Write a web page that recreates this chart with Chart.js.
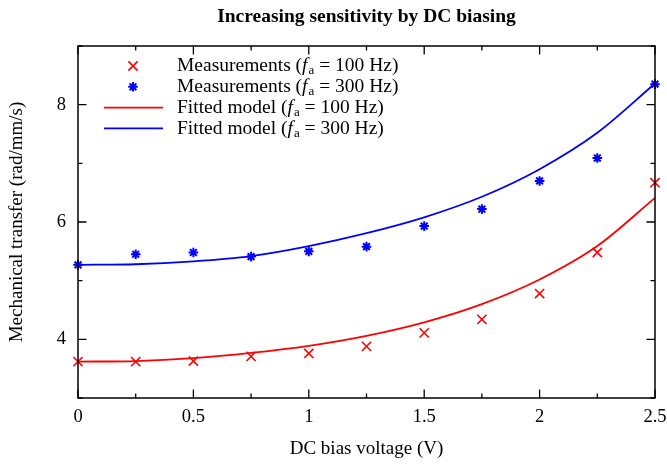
<!DOCTYPE html>
<html><head><meta charset="utf-8">
<script src="https://cdn.jsdelivr.net/npm/chart.js@4.4.0/dist/chart.umd.min.js"></script>
<style>html,body{margin:0;padding:0;background:#fff}</style>
</head><body>
<canvas id="c" width="667" height="466"></canvas>
<script>
const chartTitle = 'Increasing sensitivity by DC biasing';
const xTitle = 'DC bias voltage (V)';
const yTitle = 'Mechanical transfer (rad/mm/s)';
const biasVoltage = [0, 0.25, 0.5, 0.75, 1, 1.25, 1.5, 1.75, 2, 2.25, 2.5];
const measured100 = [3.62, 3.62, 3.63, 3.71, 3.76, 3.88, 4.11, 4.34, 4.78, 5.48, 6.67];
const measured300 = [5.27, 5.45, 5.48, 5.41, 5.50, 5.58, 5.93, 6.22, 6.70, 7.09, 8.35];
const fitted100 = [3.62, 3.63, 3.68, 3.77, 3.89, 4.06, 4.29, 4.60, 5.02, 5.59, 6.41];
const fitted300 = [5.27, 5.28, 5.33, 5.42, 5.59, 5.81, 6.08, 6.43, 6.90, 7.52, 8.36];
const legendLabels = [
  ['Measurements (', ' = 100 Hz)'],
  ['Measurements (', ' = 300 Hz)'],
  ['Fitted model (', ' = 100 Hz)'],
  ['Fitted model (', ' = 300 Hz)']
];
const RED = '#ff0000', BLUE = '#0000ff';
const FONT = '"Liberation Serif", "Times New Roman", serif';
const FS = 19.5;

const pts = arr => biasVoltage.map((x, i) => ({x: x, y: arr[i]}));

const framePlugin = {
  id: 'frame',
  afterDatasetsDraw(chart) {
    const {ctx, chartArea: a, scales} = chart;
    ctx.save();
    ctx.strokeStyle = '#000';
    ctx.lineWidth = 1.3;
    ctx.beginPath();
    scales.x.ticks.forEach(t => {
      const px = scales.x.getPixelForValue(t.value);
      const major = Math.abs(t.value / 0.5 - Math.round(t.value / 0.5)) < 1e-6;
      const len = major ? 8.5 : 4.5;
      ctx.moveTo(px, a.bottom); ctx.lineTo(px, a.bottom - len);
      ctx.moveTo(px, a.top); ctx.lineTo(px, a.top + len);
    });
    scales.y.ticks.forEach(t => {
      const py = scales.y.getPixelForValue(t.value);
      const major = Math.round(t.value) % 2 === 0;
      const len = major ? 8.5 : 4.5;
      ctx.moveTo(a.left, py); ctx.lineTo(a.left + len, py);
      ctx.moveTo(a.right, py); ctx.lineTo(a.right - len, py);
    });
    ctx.stroke();
    ctx.lineWidth = 1.5;
    ctx.strokeRect(a.left, a.top, a.right - a.left, a.bottom - a.top);
    ctx.restore();
  },
  afterDraw(chart) {
    const {ctx, chartArea: a} = chart;
    ctx.save();
    ctx.fillStyle = '#000';
    ctx.font = 'bold 19.5px ' + FONT;
    ctx.textAlign = 'center';
    ctx.textBaseline = 'middle';
    ctx.fillText(chartTitle, (a.left + a.right) / 2, 17);
    const ds = chart.data.datasets;
    legendLabels.forEach((lab, i) => {
      const y = 66 + i * 20.8;
      const d = ds[i];
      ctx.save();
      if (i < 2) {
        ctx.strokeStyle = d.borderColor; ctx.fillStyle = d.borderColor;
        ctx.lineWidth = d.pointBorderWidth;
        Chart.helpers.drawPoint(ctx, {
          pointStyle: d.pointStyle, radius: d.pointRadius, borderWidth: d.pointBorderWidth, rotation: 0
        }, 133, y);
      } else {
        ctx.strokeStyle = d.borderColor;
        ctx.lineWidth = d.borderWidth;
        ctx.beginPath(); ctx.moveTo(104, y); ctx.lineTo(163, y); ctx.stroke();
      }
      ctx.restore();
      ctx.fillStyle = '#000';
      ctx.textBaseline = 'middle';
      ctx.textAlign = 'left';
      let x = 177;
      ctx.font = FS + 'px ' + FONT;
      ctx.fillText(lab[0], x, y); x += ctx.measureText(lab[0]).width;
      ctx.font = 'italic ' + FS + 'px ' + FONT;
      ctx.fillText('f', x, y); x += ctx.measureText('f').width + 1;
      ctx.font = '13px ' + FONT;
      ctx.fillText('a', x, y + 5); x += ctx.measureText('a').width;
      ctx.font = FS + 'px ' + FONT;
      ctx.fillText(lab[1], x, y);
    });
    ctx.restore();
  }
};

new Chart(document.getElementById('c'), {
  type: 'scatter',
  data: {
    datasets: [
      {label: 'Measurements 100 Hz', data: pts(measured100), showLine: false,
       pointStyle: 'crossRot', pointRadius: 6.5, pointBorderWidth: 1.6,
       borderColor: RED, backgroundColor: RED, clip: false},
      {label: 'Measurements 300 Hz', data: pts(measured300), showLine: false,
       pointStyle: 'star', pointRadius: 4.8, pointBorderWidth: 2,
       borderColor: BLUE, backgroundColor: BLUE, clip: false},
      {label: 'Fitted model 100 Hz', data: pts(fitted100), showLine: true,
       borderColor: RED, borderWidth: 1.8, pointRadius: 0, cubicInterpolationMode: 'monotone'},
      {label: 'Fitted model 300 Hz', data: pts(fitted300), showLine: true,
       borderColor: BLUE, borderWidth: 1.8, pointRadius: 0, cubicInterpolationMode: 'monotone'}
    ]
  },
  options: {
    responsive: false,
    animation: false,
    devicePixelRatio: 1,
    layout: {padding: {left: 6, right: 12, top: 46, bottom: 6}},
    plugins: {legend: {display: false}, title: {display: false}, tooltip: {enabled: false}},
    scales: {
      x: {
        type: 'linear', min: 0, max: 2.5,
        grid: {display: false, drawTicks: false},
        border: {display: false},
        ticks: {stepSize: 0.25, padding: 8, color: '#000', maxRotation: 0, autoSkip: false,
          font: {family: FONT, size: 18.5},
          callback: v => (Math.abs(v / 0.5 - Math.round(v / 0.5)) < 1e-6 ? String(+v.toFixed(2)) : '')},
        title: {display: true, text: xTitle, color: '#000', padding: 0, font: {family: FONT, size: 19}},
        afterFit: s => { s.height = 62; s.paddingLeft = 0; s.paddingRight = 0; }
      },
      y: {
        type: 'linear', min: 3, max: 9,
        grid: {display: false, drawTicks: false},
        border: {display: false},
        ticks: {stepSize: 1, padding: 12, color: '#000', autoSkip: false,
          font: {family: FONT, size: 18.5},
          callback: v => (v % 2 === 0 ? String(v) : '')},
        title: {display: true, text: yTitle, color: '#000', padding: 0, font: {family: FONT, size: 19}},
        afterFit: s => { s.width = 72; s.paddingTop = 0; s.paddingBottom = 0; }
      }
    }
  },
  plugins: [framePlugin]
});
</script>
</body></html>
